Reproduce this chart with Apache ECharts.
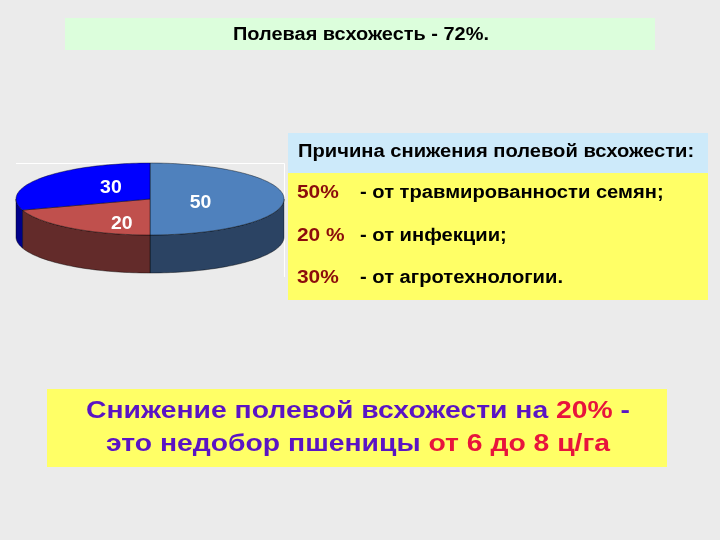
<!DOCTYPE html>
<html>
<head>
<meta charset="utf-8">
<script src="https://cdn.jsdelivr.net/npm/echarts@6/dist/echarts.min.js"></script>
<style>html,body{margin:0;padding:0;background:#ebebeb;}#c{width:720px;height:540px;}</style>
</head>
<body>
<div id="c"></div>
<script>
// ---- data ----
const categories = ['травмированность семян', 'инфекция', 'агротехнология'];
const values = [50, 20, 30];
const sliceLabels = ['50', '20', '30'];
const percentLabels = ['50%', '20 %', '30%'];
const reasons = ['- от травмированности семян;', '- от инфекции;', '- от агротехнологии.'];
const titleText = 'Полевая всхожесть - 72%.';
const headerText = 'Причина снижения полевой всхожести:';

// ---- style ----
const topColors = ['#4f81bd', '#c0504d', '#0000ff'];
const sideColors = ['#2b4363', '#632b2a', '#00008a'];
const FONT = '"Liberation Sans", Arial, sans-serif';
const PIE = { cx: 150, cy: 199, rx: 134, ry: 36, depth: 38 };
const total = values.reduce((a, b) => a + b, 0);

function pt(t, dy) { return [PIE.cx + PIE.rx * Math.cos(t), PIE.cy + PIE.ry * Math.sin(t) + (dy || 0)]; }
function arcPts(a0, a1, dy) {
  const n = Math.max(2, Math.ceil(Math.abs(a1 - a0) / (Math.PI / 120)));
  const out = [];
  for (let i = 0; i <= n; i++) out.push(pt(a0 + (a1 - a0) * i / n, dy));
  return out;
}

function renderItem(params, api) {
  const i = params.dataIndex;
  let before = 0;
  for (let k = 0; k < i; k++) before += values[k];
  const v = api.value(0);
  const s = -Math.PI / 2 + before / total * 2 * Math.PI;
  const e = s + v / total * 2 * Math.PI;
  const children = [];
  [[0, Math.PI], [2 * Math.PI, 3 * Math.PI]].forEach(function (r) {
    const a0 = Math.max(s, r[0]), a1 = Math.min(e, r[1]);
    if (a1 > a0) {
      const pts = arcPts(a0, a1, 0).concat(arcPts(a1, a0, PIE.depth));
      children.push({ type: 'polygon', shape: { points: pts },
        style: { fill: sideColors[i], stroke: 'rgba(0,0,0,0.6)', lineWidth: 0.7 } });
    }
  });
  const top = [[PIE.cx, PIE.cy]].concat(arcPts(s, e, 0));
  children.push({ type: 'polygon', shape: { points: top },
    style: { fill: topColors[i], stroke: 'rgba(0,0,0,0.6)', lineWidth: 0.7 } });
  const m = (s + e) / 2;
  children.push({ type: 'text',
    x: PIE.cx + 1 + 0.37 * PIE.rx * Math.cos(m),
    y: PIE.cy + 4 + 0.72 * PIE.ry * Math.sin(m),
    scaleX: 1.08,
    style: { text: sliceLabels[i], x: 0, y: 0,
      fill: '#ffffff', font: 'bold 18px ' + FONT, align: 'center', verticalAlign: 'middle' } });
  return { type: 'group', children: children };
}

function txt(x, y, sx, style) {
  style.x = 0; style.y = 0;
  return { type: 'text', x: x, y: y, scaleX: sx, style: style };
}

const rowYs = [193, 236, 278];
const graphic = [
  { type: 'rect', shape: { x: 65, y: 18, width: 590, height: 32 }, style: { fill: '#dcfedc' } },
  txt(361, 35, 1.14, { text: titleText, font: 'bold 17.5px ' + FONT, fill: '#000', align: 'center', verticalAlign: 'middle' }),
  { type: 'polyline', shape: { points: [[16, 163.5], [284.5, 163.5], [284.5, 277]] }, style: { stroke: '#ffffff', lineWidth: 1, fill: null } },
  { type: 'rect', shape: { x: 288, y: 133, width: 420, height: 40 }, style: { fill: '#cdeafa' } },
  { type: 'rect', shape: { x: 288, y: 173, width: 420, height: 127 }, style: { fill: '#ffff66' } },
  txt(298, 152, 1.12, { text: headerText, font: 'bold 18px ' + FONT, fill: '#000', align: 'left', verticalAlign: 'middle' }),
  { type: 'rect', shape: { x: 47, y: 389, width: 620, height: 78 }, style: { fill: '#ffff66' } },
  txt(358, 428, 1.18, {
    text: '{p|Снижение полевой всхожести на }{r|20%}{p| -}\n{p|это недобор пшеницы }{r|от 6 до 8 ц/га}',
    align: 'center', verticalAlign: 'middle',
    font: 'bold 24px ' + FONT, lineHeight: 33,
    rich: {
      p: { fill: '#5a14c4', font: 'bold 24px ' + FONT, lineHeight: 33 },
      r: { fill: '#e8143c', font: 'bold 24px ' + FONT, lineHeight: 33 }
    } })
];
percentLabels.forEach(function (p, i) {
  graphic.push(txt(297, rowYs[i], 1.1, { text: p, font: 'bold 19px ' + FONT, fill: '#8b0c0c', align: 'left', verticalAlign: 'middle' }));
  graphic.push(txt(360, rowYs[i], 1.12, { text: reasons[i], font: 'bold 18px ' + FONT, fill: '#000', align: 'left', verticalAlign: 'middle' }));
});

const chart = echarts.init(document.getElementById('c'), null, { renderer: 'canvas' });
chart.setOption({
  backgroundColor: '#ebebeb',
  animation: false,
  graphic: graphic,
  series: [{
    type: 'custom',
    coordinateSystem: 'none',
    renderItem: renderItem,
    data: values.map(function (v, i) { return { name: categories[i], value: [v] }; })
  }]
});
</script>
</body>
</html>
